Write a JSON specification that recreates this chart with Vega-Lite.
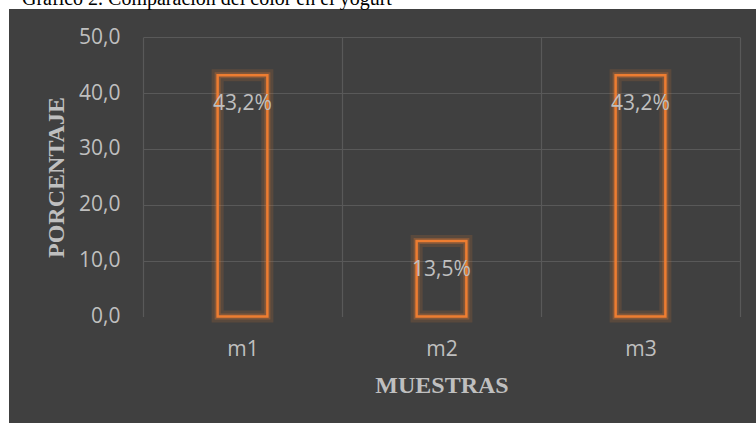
{
  "$schema": "https://vega.github.io/schema/vega-lite/v6.json",
  "width": 747,
  "height": 414,
  "autosize": {"type": "none"},
  "padding": {"left": 9, "top": 9, "right": 0, "bottom": 0},
  "background": "white",
  "title": {
    "text": "Gráfico 2. Comparación del color en el yogurt",
    "anchor": "start",
    "frame": "group",
    "orient": "top",
    "offset": -16,
    "baseline": "alphabetic",
    "dx": 13,
    "font": "Liberation Serif",
    "fontSize": 20,
    "fontWeight": "normal",
    "color": "black"
  },
  "config": {"view": {"fill": "#404040", "stroke": null}},
  "data": {
    "values": [
      {"muestra": "m1", "porcentaje": 43.2, "etiqueta": "43,2%"},
      {"muestra": "m2", "porcentaje": 13.5, "etiqueta": "13,5%"},
      {"muestra": "m3", "porcentaje": 43.2, "etiqueta": "43,2%"}
    ]
  },
  "encoding": {
    "x": {
      "field": "muestra",
      "type": "nominal",
      "sort": null,
      "scale": {"range": [134, 731], "paddingInner": 0, "paddingOuter": 0},
      "axis": {
        "orient": "top",
        "tickBand": "extent",
        "ticks": false,
        "domain": false,
        "grid": true,
        "gridColor": "#595959",
        "gridWidth": 1.2,
        "labelAngle": 0,
        "labelFont": "Open Sans",
        "labelFontSize": 21,
        "labelColor": "#BFBFBF",
        "labelPadding": -346,
        "labelBaseline": "alphabetic",
        "title": "MUESTRAS",
        "titleFont": "Liberation Serif",
        "titleFontSize": 24,
        "titleFontWeight": "bold",
        "titleColor": "#BFBFBF",
        "titleX": 432.5,
        "titleY": 383,
        "titleBaseline": "alphabetic",
        "titleAlign": "center"
      }
    },
    "y": {
      "field": "porcentaje",
      "type": "quantitative",
      "scale": {"domain": [0, 50], "range": [307.5, 28.3], "nice": false},
      "axis": {
        "orient": "left",
        "offset": -134,
        "values": [0, 10, 20, 30, 40, 50],
        "labelExpr": "replace(format(datum.value, '.1f'), '.', ',')",
        "domain": false,
        "ticks": false,
        "labelPadding": 23,
        "labelFont": "Open Sans",
        "labelFontSize": 21,
        "labelColor": "#BFBFBF",
        "grid": true,
        "gridColor": "#595959",
        "gridWidth": 1.2,
        "gridOpacity": {"condition": {"test": "datum.value === 0", "value": 0}, "value": 1},
        "title": "PORCENTAJE",
        "titleFont": "Liberation Serif",
        "titleFontSize": 24,
        "titleFontWeight": "bold",
        "titleColor": "#BFBFBF",
        "titleAngle": -90,
        "titleX": -80,
        "titleY": 168,
        "titleBaseline": "alphabetic",
        "titleAlign": "center"
      }
    }
  },
  "layer": [
    {
      "mark": {"type": "bar", "width": {"band": 0.25}, "fillOpacity": 0, "stroke": "#ED7D31", "strokeWidth": 12, "strokeOpacity": 0.15}
    },
    {
      "mark": {"type": "bar", "width": {"band": 0.25}, "fillOpacity": 0, "stroke": "#ED7D31", "strokeWidth": 6, "strokeOpacity": 0.28}
    },
    {
      "mark": {"type": "bar", "width": {"band": 0.25}, "fillOpacity": 0, "stroke": "#ED7D31", "strokeWidth": 2.5}
    },
    {
      "mark": {"type": "text", "baseline": "middle", "dy": 29, "font": "Open Sans", "fontSize": 21, "color": "#BFBFBF"},
      "encoding": {"text": {"field": "etiqueta", "type": "nominal"}}
    }
  ]
}
